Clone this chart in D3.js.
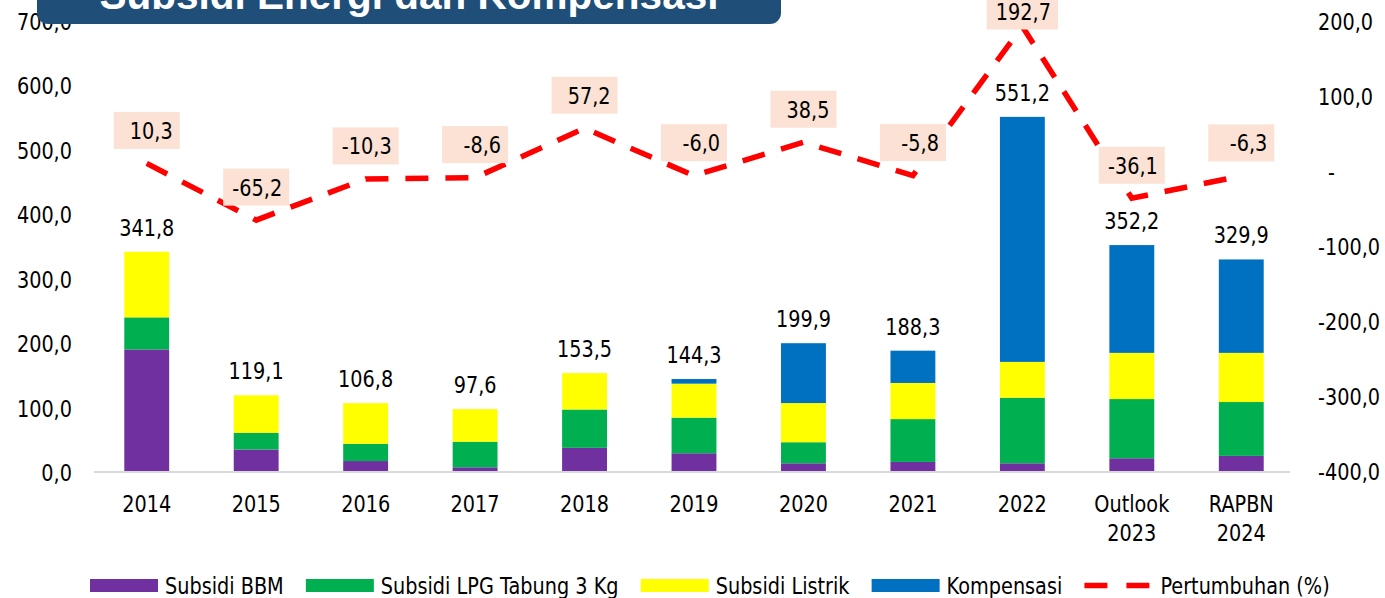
<!DOCTYPE html>
<html>
<head>
<meta charset="utf-8">
<script src="https://cdn.jsdelivr.net/npm/d3@7"></script>
<style>
  body { margin: 0; background: #fff; }
  svg { display: block; font-family: "DejaVu Sans", sans-serif; }
</style>
</head>
<body>
<script>
// Subsidi energi dan kompensasi, triliun rupiah (left axis) + pertumbuhan % (right axis)

const categories = ["2014", "2015", "2016", "2017", "2018", "2019", "2020", "2021", "2022", "Outlook 2023", "RAPBN 2024"];
const subsidiBBM = [190.2, 34.9, 17.0, 7.3, 37.5, 29.1, 13.5, 15.6, 13.5, 21.3, 25.0];
const subsidiLPG = [49.8, 25.9, 26.7, 39.7, 59.5, 55.3, 32.7, 66.5, 101.8, 91.9, 83.6];
const subsidiListrik = [101.8, 58.3, 63.1, 50.6, 56.5, 52.7, 60.8, 56.1, 55.6, 71.7, 76.3];
const kompensasi = [0, 0, 0, 0, 0, 7.2, 92.9, 50.1, 380.3, 167.3, 145.0];
const totals = [341.8, 119.1, 106.8, 97.6, 153.5, 144.3, 199.9, 188.3, 551.2, 352.2, 329.9];
const pertumbuhan = [10.3, -65.2, -10.3, -8.6, 57.2, -6.0, 38.5, -5.8, 192.7, -36.1, -6.3];

const leftTicks = [0, 100, 200, 300, 400, 500, 600, 700];
const rightTicks = [-400, -300, -200, -100, 0, 100, 200];

const seriesNames = ["Subsidi BBM", "Subsidi LPG Tabung 3 Kg", "Subsidi Listrik", "Kompensasi"];
const seriesColors = ["#7030A0", "#00B050", "#FFFF00", "#0070C0"];
const title = "Subsidi Energi dan Kompensasi";

const width = 1385, height = 598;
const FS = 23.5, SX = 0.82;   // font size and horizontal squeeze (narrow Tahoma look)

const fmt = v => d3.format(".1f")(v).replace("\u2212", "-").replace(".", ",");

const svg = d3.select("body").append("svg")
    .attr("width", width)
    .attr("height", height);

// squeeze text horizontally around its anchor
function squeeze(sel) {
    sel.each(function() {
        const t = d3.select(this);
        const x = +t.attr("x") || 0, y = +t.attr("y") || 0;
        t.attr("x", 0).attr("y", 0)
            .attr("transform", `translate(${x},${y}) scale(${SX},1)`);
    });
}

const x = d3.scaleBand()
    .domain(categories)
    .range([92, 1296])
    .paddingInner(0.59)
    .paddingOuter(0.295);

const yLeft = d3.scaleLinear().domain([0, 700]).range([472, 21]);
const yRight = d3.scaleLinear().domain([-400, 200]).range([471.5, 21]);

// stacked data
const rows = categories.map((c, i) => ({
    cat: c,
    s0: subsidiBBM[i], s1: subsidiLPG[i], s2: subsidiListrik[i], s3: kompensasi[i]
}));
const stack = d3.stack().keys(["s0", "s1", "s2", "s3"])(rows);

// left axis
const gl = svg.append("g")
    .attr("transform", "translate(72,0)")
    .call(d3.axisLeft(yLeft).tickValues(leftTicks).tickFormat(fmt).tickSize(0).tickPadding(0));
gl.select(".domain").remove();
gl.selectAll("text")
    .attr("font-size", FS).attr("font-family", "DejaVu Sans").attr("fill", "#000")
    .attr("dy", "0.36em")
    .call(squeeze);

// right axis
const gr = svg.append("g")
    .attr("transform", "translate(1318,0)")
    .call(d3.axisRight(yRight).tickValues(rightTicks)
        .tickFormat(v => v === 0 ? "-" : fmt(v)).tickSize(0).tickPadding(0));
gr.select(".domain").remove();
gr.selectAll("text")
    .attr("font-size", FS).attr("font-family", "DejaVu Sans").attr("fill", "#000")
    .attr("text-anchor", "start")
    .attr("dy", "0.36em")
    .attr("x", d => d === 0 ? 10 : 0)
    .call(squeeze);

// bars
svg.append("g")
    .selectAll("g")
    .data(stack)
    .join("g")
    .attr("fill", (d, i) => seriesColors[i])
    .selectAll("rect")
    .data(d => d)
    .join("rect")
    .attr("x", d => x(d.data.cat))
    .attr("y", d => yLeft(d[1]))
    .attr("width", x.bandwidth())
    .attr("height", d => yLeft(d[0]) - yLeft(d[1]));

// bottom axis (baseline + category labels)
const gb = svg.append("g")
    .attr("transform", `translate(0,${yLeft(0)})`)
    .call(d3.axisBottom(x).tickSize(0).tickSizeOuter(0).tickFormat(""));
gb.select(".domain").attr("stroke", "#D9D9D9").attr("stroke-width", 2)
    .attr("d", "M94,0H1290");
gb.selectAll(".tick").each(function(d) {
    const lines = d.split(" ");
    const g = d3.select(this);
    g.select("text").remove();
    lines.forEach((ln, k) => {
        g.append("text")
            .attr("x", 0)
            .attr("y", 40 + k * 28.5)
            .attr("text-anchor", "middle")
            .attr("font-size", FS).attr("font-family", "DejaVu Sans").attr("fill", "#000")
            .text(ln)
            .call(squeeze);
    });
});

// total labels
svg.append("g")
    .selectAll("text")
    .data(totals)
    .join("text")
    .attr("x", (d, i) => x(categories[i]) + x.bandwidth() / 2)
    .attr("y", d => yLeft(d) - 16)
    .attr("text-anchor", "middle")
    .attr("font-size", FS).attr("fill", "#000")
    .text(d => fmt(d))
    .call(squeeze);

// growth line
const line = d3.line()
    .x((d, i) => x(categories[i]) + x.bandwidth() / 2)
    .y(d => yRight(d));

svg.append("path")
    .datum(pertumbuhan)
    .attr("d", line)
    .attr("fill", "none")
    .attr("stroke", "#FF0000")
    .attr("stroke-width", 5.5)
    .attr("stroke-dasharray", "23,17");

// growth labels with boxes
const gLab = svg.append("g");
pertumbuhan.forEach((v, i) => {
    const cx = x(categories[i]) + x.bandwidth() / 2;
    const cy = Math.max(11, yRight(v) - 33);
    const g = gLab.append("g");
    const t = g.append("text")
        .attr("font-size", FS).attr("fill", "#000")
        .attr("text-anchor", "end")
        .text(fmt(v));
    const tw = t.node().getComputedTextLength() * SX;
    const bw = Math.max(66, tw + 16);
    g.insert("rect", "text")
        .attr("x", cx - bw / 2)
        .attr("y", cy - 18.5)
        .attr("width", bw)
        .attr("height", 37)
        .attr("fill", "#FBE2D5");
    t.attr("x", cx + bw / 2 - 7).attr("y", cy + 8.5).call(squeeze);
});

// title box
svg.append("rect")
    .attr("x", 37).attr("y", -40)
    .attr("width", 744).attr("height", 64)
    .attr("rx", 11)
    .attr("fill", "#1F4E79");
svg.append("text")
    .attr("x", 409).attr("y", 9)
    .attr("text-anchor", "middle")
    .attr("font-family", "Liberation Sans, Arial, sans-serif")
    .attr("font-weight", "bold")
    .attr("font-size", 40.5)
    .attr("fill", "#fff")
    .text(title);

// legend
const leg = svg.append("g");
let lx = 90;
const ly = 585.5;
seriesNames.forEach((name, i) => {
    leg.append("rect")
        .attr("x", lx).attr("y", ly - 6.5)
        .attr("width", 68).attr("height", 13)
        .attr("fill", seriesColors[i]);
    const t = leg.append("text")
        .attr("x", lx + 75).attr("y", ly + 8.5)
        .attr("font-size", FS).attr("fill", "#000")
        .text(name);
    const tw = t.node().getComputedTextLength() * SX;
    t.call(squeeze);
    lx += 75 + tw + 22;
});
leg.append("line")
    .attr("x1", lx).attr("x2", lx + 65)
    .attr("y1", ly).attr("y2", ly)
    .attr("stroke", "#FF0000")
    .attr("stroke-width", 5.5)
    .attr("stroke-dasharray", "23,19");
leg.append("text")
    .attr("x", lx + 76).attr("y", ly + 8.5)
    .attr("font-size", FS).attr("fill", "#000")
    .text("Pertumbuhan (%)")
    .call(squeeze);
</script>
</body>
</html>
